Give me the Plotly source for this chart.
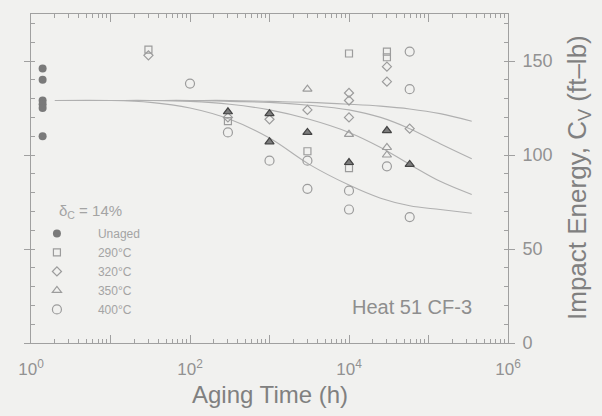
import plotly.graph_objects as go

# ---- data ----
unaged_t = [1.4, 1.4, 1.4, 1.4, 1.4, 1.4]
unaged_v = [146, 140, 129, 127, 125, 110]

t290 = [30, 300, 3000, 10000, 10000, 30000, 30000]
v290 = [156, 118, 102, 154, 93, 155, 152]

t320 = [30, 300, 1000, 3000, 10000, 10000, 10000, 30000, 30000, 58000]
v320 = [153, 120, 119, 124, 133, 129, 120, 147, 139, 114]

t350 = [3000, 300, 1000, 1000, 3000, 10000, 10000, 30000, 30000, 30000, 58000]
v350 = [135, 123, 122, 107, 112, 111, 96, 113, 104, 100, 95]

t400 = [100, 300, 1000, 3000, 3000, 10000, 10000, 30000, 58000, 58000, 58000]
v400 = [138, 112, 97, 97, 82, 81, 71, 94, 155, 135, 67]

curve_t = [2, 10, 32, 100, 316, 1000, 3160, 10000, 25000, 58000, 140000, 350000]
c290 = [129, 129, 129, 129, 129, 128.5, 128, 127, 126, 124.5, 122, 118]
c320 = [129, 129, 129, 129, 128.5, 128, 126.5, 124, 120, 114, 106, 98]
c350 = [129, 129, 129, 128.5, 127, 124, 119, 112, 104, 95, 86, 79]
c400 = [129, 129, 128, 125, 119, 109, 95, 84, 77, 73, 71, 69]

x_tickvals = [1, 10, 100, 1000, 10000, 100000, 1000000]
x_ticktext = ["10<sup>0</sup>", "", "10<sup>2</sup>", "", "10<sup>4</sup>", "", "10<sup>6</sup>"]
y_tickvals = [0, 50, 100, 150]
y_ticktext = ["0", "50", "100", "150"]

BG = "#f1f1ef"
AX = "#a0a0a0"
LINE = "#b0b0b0"
MK = "#9c9c9c"
DARK = "#7c7c7c"
FONT = "Liberation Sans, Arial, sans-serif"

# styling of the 350°C points: the scan shows some of them as dark (filled) marks
dark350 = [False, True, True, True, True, False, True, True, False, False, True]
sym350 = ["triangle-up" if d else "triangle-up-open" for d in dark350]
col350 = [DARK if d else MK for d in dark350]

fig = go.Figure()

for cv in [c290, c320, c350, c400]:
    fig.add_trace(go.Scatter(x=curve_t, y=cv, mode="lines", line=dict(color=LINE, width=1.1, shape="spline"),
                             showlegend=False, hoverinfo="skip"))

fig.add_trace(go.Scatter(x=unaged_t, y=unaged_v, mode="markers", name="Unaged",
                         marker=dict(symbol="circle", size=8, color="#7a7a7a")))
fig.add_trace(go.Scatter(x=t290, y=v290, mode="markers", name="290°C",
                         marker=dict(symbol="square-open", size=7, color=MK, line=dict(width=1.2))))
fig.add_trace(go.Scatter(x=t320, y=v320, mode="markers", name="320°C",
                         marker=dict(symbol="diamond-open", size=7, color=MK, line=dict(width=1.2))))
fig.add_trace(go.Scatter(x=t350, y=v350, mode="markers", name="350°C",
                         marker=dict(symbol=sym350, size=8, color=col350, line=dict(width=1.2))))
fig.add_trace(go.Scatter(x=t400, y=v400, mode="markers", name="400°C",
                         marker=dict(symbol="circle-open", size=9, color=MK, line=dict(width=1.2))))

minor_x = [m * 10 ** d for d in range(0, 6) for m in range(2, 10)]

fig.update_xaxes(type="log", range=[0, 6], tickmode="array", tickvals=x_tickvals, ticktext=x_ticktext,
                 ticks="inside", ticklen=8, tickcolor=AX, showline=True, linecolor=AX, linewidth=1,
                 mirror="ticks", showgrid=False, zeroline=False, ticklabelstandoff=11,
                 tickfont=dict(size=17, color="#929292", family=FONT),
                 minor=dict(tickmode="array", tickvals=minor_x, ticks="inside", ticklen=4, tickcolor=AX, showgrid=False))
fig.update_yaxes(range=[0, 175], side="right", tickmode="array", tickvals=y_tickvals, ticktext=y_ticktext,
                 ticks="outside", ticklen=6, tickcolor=AX, showline=True, linecolor=AX, linewidth=1,
                 mirror="ticks", showgrid=False, zeroline=False, ticklabelstandoff=4,
                 tickfont=dict(size=18, color="#929292", family=FONT),
                 minor=dict(dtick=10, ticks="inside", ticklen=4, tickcolor=AX, showgrid=False))

# The page has an 8px body margin, so the figure is 8px smaller than the window.
fig.update_layout(
    width=594, height=408,
    margin=dict(l=23, r=94, t=6, b=73),
    paper_bgcolor=BG, plot_bgcolor=BG,
    font=dict(family=FONT, color="#8c8c8c"),
    showlegend=True,
    legend=dict(x=-0.0316, xanchor="left", y=0.377, yanchor="top", bgcolor="rgba(0,0,0,0)",
                font=dict(size=12, color="#a4a4a4", family=FONT), itemwidth=72),
    annotations=[
        dict(text="δ<sub>C</sub> = 14%", x=(57 - 31) / 477, y=(343 - 212) / 329, xref="paper", yref="paper",
             xanchor="left", yanchor="middle", showarrow=False, font=dict(size=15, color="#a4a4a4", family=FONT)),
        dict(text="Heat 51 CF-3", x=(412 - 31) / 477, y=(343 - 307) / 329, xref="paper", yref="paper",
             xanchor="center", yanchor="middle", showarrow=False, font=dict(size=20, color="#8e8e8e", family=FONT)),
        dict(text="Aging Time (h)", x=0.5, y=(343 - 394) / 329, xref="paper", yref="paper",
             xanchor="center", yanchor="middle", showarrow=False, font=dict(size=24, color="#808080", family=FONT)),
        dict(text="Impact Energy, C<sub>V</sub> (ft–lb)", x=(578 - 31) / 477, y=(343 - 178) / 329,
             xref="paper", yref="paper", textangle=-90, xanchor="center", yanchor="middle", showarrow=False,
             font=dict(size=26, color="#808080", family=FONT)),
    ],
)

fig.write_html("out.html", post_script="document.body.style.background='#f1f1ef';")
